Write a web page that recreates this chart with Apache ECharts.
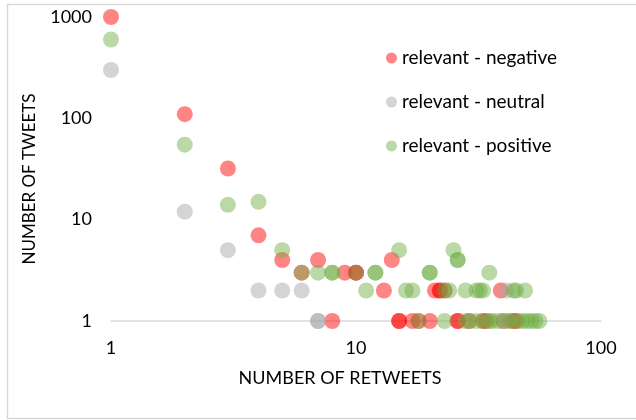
<!DOCTYPE html>
<html>
<head>
<meta charset="utf-8">
<script src="https://cdn.jsdelivr.net/npm/echarts@6/dist/echarts.min.js"></script>
<style>
  html, body { margin: 0; padding: 0; background: #fff; }
  #chart { width: 636px; height: 420px; }
</style>
</head>
<body>
<div id="chart"></div>
<script>
// [retweets, tweets]
const negative = [
  [1, 1000], [2, 110], [3, 32], [4, 7], [5, 4], [7, 4], [14, 4],
  [6, 3], [9, 3], [10, 3], [10, 3],
  [13, 2], [21, 2], [22, 2], [22, 2], [23, 2], [39, 2],
  [8, 1], [15, 1], [15, 1], [17, 1], [18, 1], [20, 1], [26, 1], [26, 1],
  [29, 1], [33, 1], [34, 1], [40, 1], [44, 1], [45, 1]
];
const neutral = [
  [1, 300], [2, 12], [3, 5], [4, 2], [5, 2], [6, 2], [41, 2],
  [7, 1], [7, 1], [40, 1]
];
const positive = [
  [1, 600], [2, 55], [3, 14], [4, 15], [5, 5], [15, 5], [25, 5],
  [26, 4], [26, 4],
  [6, 3], [7, 3], [8, 3], [8, 3], [10, 3], [12, 3], [12, 3], [20, 3], [20, 3], [35, 3],
  [11, 2], [16, 2], [17, 2], [23, 2], [24, 2], [28, 2], [31, 2], [32, 2], [33, 2],
  [44, 2], [45, 2], [49, 2],
  [18, 1], [23, 1], [28, 1], [29, 1], [31, 1], [33, 1], [35, 1], [36, 1], [38, 1],
  [42, 1], [43, 1], [46, 1], [48, 1], [50, 1], [52, 1], [54, 1], [56, 1]
];
const seriesNames = ["relevant - negative", "relevant - neutral", "relevant - positive"];
const seriesColors = ["rgba(255,0,0,0.6)", "rgba(166,166,166,0.6)", "rgba(112,173,71,0.6)"];
const seriesData = [negative, neutral, positive];
const xTitle = "NUMBER OF RETWEETS";
const yTitle = "NUMBER OF TWEETS";

const font = "Lato, 'Open Sans', sans-serif";
const chart = echarts.init(document.getElementById("chart"));

chart.setOption({
  animation: false,
  textStyle: { fontFamily: font },
  graphic: [
    {
      type: "rect",
      shape: { x: 7.5, y: 4.5, width: 640, height: 414 },
      style: { fill: "none", stroke: "#d9d9d9", lineWidth: 1.5 },
      silent: true
    },
    {
      type: "text",
      x: 340,
      y: 378,
      style: { text: xTitle, fontSize: 18, fontFamily: font, fill: "#000",
               textAlign: "center", textVerticalAlign: "middle" }
    },
    {
      type: "text",
      x: 30,
      y: 179,
      rotation: Math.PI / 2,
      style: { text: yTitle, fontSize: 17, fontFamily: font, fill: "#000",
               textAlign: "center", textVerticalAlign: "middle" }
    }
  ],
  grid: { left: 111, right: 35, top: 17, bottom: 99 },
  legend: {
    orient: "vertical",
    left: 381,
    top: 43,
    icon: "circle",
    itemWidth: 11,
    itemHeight: 11,
    itemGap: 24,
    textStyle: { fontSize: 19, lineHeight: 20, color: "#000", fontFamily: font },
    data: seriesNames
  },
  xAxis: {
    type: "log",
    logBase: 10,
    min: 1,
    max: 100,
    axisLine: { lineStyle: { color: "#d9d9d9", width: 1.5 } },
    axisTick: { show: false },
    splitLine: { show: false },
    axisLabel: { fontSize: 18, color: "#000", margin: 18 }
  },
  yAxis: {
    type: "log",
    logBase: 10,
    min: 1,
    max: 1000,
    axisLine: { show: false },
    axisTick: { show: false },
    splitLine: { show: false },
    axisLabel: { fontSize: 18, color: "#000", margin: 19, formatter: v => String(v) }
  },
  series: seriesNames.map((name, i) => ({
    name: name,
    type: "scatter",
    symbol: "circle",
    symbolSize: 16,
    data: seriesData[i],
    itemStyle: { color: seriesColors[i] }
  }))
});
</script>
</body>
</html>
